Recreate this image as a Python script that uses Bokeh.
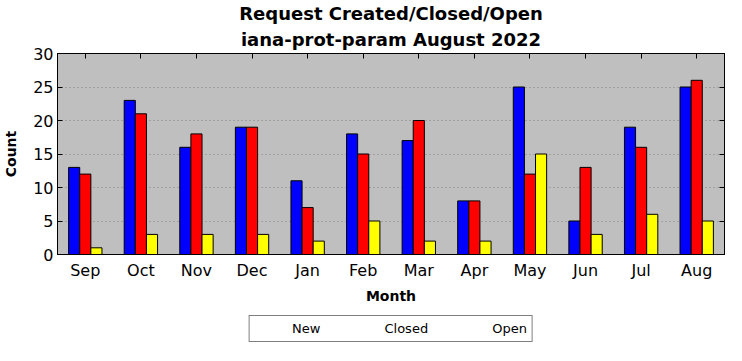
from bokeh.plotting import figure
from bokeh.layouts import column
from bokeh.models import (ColumnDataSource, Range1d, Legend, LegendItem,
                          LinearAxis, Title, FixedTicker)
from bokeh.transform import dodge
from bokeh.embed import file_html
from bokeh.resources import INLINE

months = ["Sep", "Oct", "Nov", "Dec", "Jan", "Feb", "Mar", "Apr", "May", "Jun", "Jul", "Aug"]
new = [13, 23, 16, 19, 11, 18, 17, 8, 25, 5, 19, 25]
closed = [12, 21, 18, 19, 7, 15, 20, 8, 12, 13, 16, 26]
open_ = [1, 3, 3, 3, 2, 5, 2, 2, 15, 3, 6, 5]
y_ticks = [0, 5, 10, 15, 20, 25, 30]
series_names = ["New", "Closed", "Open"]
series_colors = ["#0000ff", "#ff0000", "#ffff00"]

idx = list(range(len(months)))
src = ColumnDataSource(dict(idx=idx, month=months, new=new, closed=closed, open=open_))

FONT = "DejaVu Sans"

p = figure(x_range=Range1d(-0.5, len(months) - 0.5), y_range=Range1d(0, 30),
           width=726, height=306, output_backend="svg", toolbar_location=None,
           min_border_left=48, min_border_right=2, min_border_top=45, min_border_bottom=2)
p.background_fill_color = "#bfbfbf"
p.border_fill_color = "white"
p.outline_line_color = "black"
p.outline_line_width = 1

r1 = p.vbar(x=dodge("idx", -0.2), top="new", width=0.2, source=src,
            fill_color=series_colors[0], line_color="black")
r2 = p.vbar(x=dodge("idx", 0.0), top="closed", width=0.2, source=src,
            fill_color=series_colors[1], line_color="black")
r3 = p.vbar(x=dodge("idx", 0.2), top="open", width=0.2, source=src,
            fill_color=series_colors[2], line_color="black")

p.xgrid.visible = False
p.ygrid.ticker = FixedTicker(ticks=y_ticks)
p.ygrid.grid_line_dash = "1 3"
p.ygrid.grid_line_color = "#808080"

for ax in (p.xaxis[0], p.yaxis[0]):
    ax.major_tick_in = 5
    ax.major_tick_out = 0
    ax.minor_tick_in = 0
    ax.minor_tick_out = 0
    ax.axis_line_color = "black"
    ax.major_label_text_font = FONT
    ax.major_label_text_font_size = "16px"
    ax.major_label_text_color = "black"
    ax.axis_label_text_font = FONT
    ax.axis_label_text_font_size = "14px"
    ax.axis_label_text_font_style = "bold"
    ax.axis_label_text_color = "black"

p.yaxis[0].ticker = FixedTicker(ticks=y_ticks)
p.yaxis[0].axis_label = "Count"
p.yaxis[0].major_label_standoff = 4
p.yaxis[0].axis_label_standoff = 11
p.xaxis[0].ticker = FixedTicker(ticks=idx)
p.xaxis[0].major_label_overrides = {i: m for i, m in zip(idx, months)}
p.xaxis[0].axis_label = "Month"
p.xaxis[0].major_label_standoff = 6
p.xaxis[0].axis_label_standoff = 5
p.xaxis[0].major_tick_line_color = None

# top and right axes with inward ticks and no labels
ra = LinearAxis(ticker=FixedTicker(ticks=y_ticks),
                major_label_overrides={t: "" for t in y_ticks},
                major_label_standoff=0,
                major_tick_in=5, major_tick_out=0, minor_tick_in=0, minor_tick_out=0,
                axis_line_color="black")
p.add_layout(ra, "right")
ta = LinearAxis(ticker=FixedTicker(ticks=idx),
                major_label_overrides={i: "" for i in idx},
                major_label_standoff=0,
                major_tick_in=5, major_tick_out=0, minor_tick_in=0, minor_tick_out=0,
                axis_line_color="black")
p.add_layout(ta, "above")

p.add_layout(Title(text="iana-prot-param August 2022", align="center", text_font=FONT,
                   text_font_size="18px", text_font_style="bold", text_color="black",
                   standoff=7), "above")
p.add_layout(Title(text="Request Created/Closed/Open", align="center", text_font=FONT,
                   text_font_size="18px", text_font_style="bold", text_color="black",
                   standoff=0), "above")

# separate strip holding the legend below the chart
lf = figure(width=726, height=39, output_backend="svg", toolbar_location=None,
            x_range=Range1d(0, 1), y_range=Range1d(0, 1),
            x_axis_location=None, y_axis_location=None,
            min_border_left=48, min_border_right=2, min_border_top=0, min_border_bottom=0)
lf.outline_line_color = None
lf.xgrid.visible = False
lf.ygrid.visible = False
items = []
for name, col in zip(series_names, series_colors):
    rr = lf.vbar(x=[], top=[], width=0.2, fill_color=col, line_color="black")
    items.append(LegendItem(label=name, renderers=[rr]))

legend = Legend(items=items, orientation="horizontal", location="bottom",
                label_text_font=FONT, label_text_font_size="13px", label_text_color="black",
                label_standoff=10,
                glyph_width=28, glyph_height=10, spacing=26, padding=5, margin=3,
                border_line_color="black", border_line_width=1,
                background_fill_color="white", background_fill_alpha=1.0)
lf.add_layout(legend, "center")

layout = column(p, lf, spacing=0)
open("out.html", "w").write(file_html(layout, INLINE))
